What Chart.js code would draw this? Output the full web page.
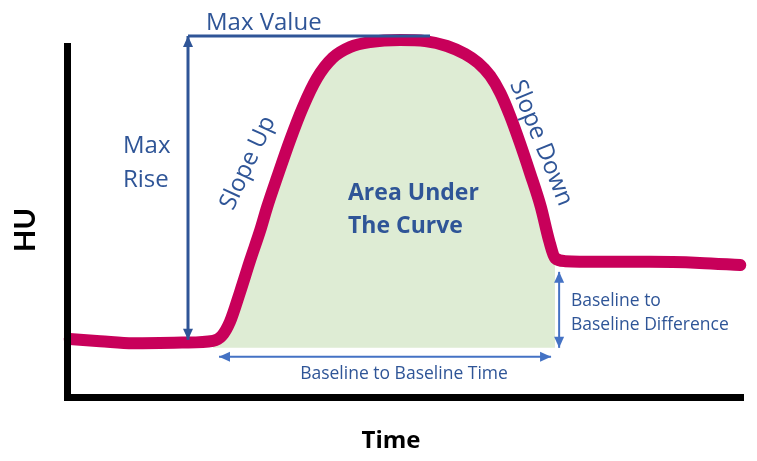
<!DOCTYPE html>
<html>
<head>
<meta charset="utf-8">
<script src="https://cdn.jsdelivr.net/npm/chart.js@4.4.1/dist/chart.umd.min.js"></script>
<style>
  html, body { margin: 0; padding: 0; background: #fff; }
  #wrap { width: 757px; height: 461px; }
</style>
</head>
<body>
<div id="wrap"><canvas id="curve" width="757" height="461"></canvas></div>
<script>
// time (0-100) and HU (0-100)
const timeValues = [0.4, 4.9, 9.8, 17.2, 21.6, 22.9, 24.1, 25.6, 27.1, 28.6, 29.6, 31.1, 33.0, 34.9, 37.0, 39.3,
    41.9, 44.8, 49.3, 53.0, 56.2, 58.9, 60.8, 62.6, 64.1, 65.5, 67.0, 68.5, 70.1, 71.3, 72.2, 73.7, 78.8, 86.2, 93.6, 99.6];
const huValues = [16.5, 15.9, 15.3, 15.5, 16.0, 17.4, 21.4, 29.9, 39.0, 47.6, 54.1, 62.7, 73.2, 82.6, 90.9, 96.6,
    99.7, 101.1, 101.7, 101.4, 100.0, 97.7, 95.2, 91.5, 86.6, 80.3, 72.4, 63.8, 54.1, 44.7, 39.6, 38.7, 38.5, 38.5, 38.2, 37.6];

// baseline to baseline window
const areaStart = 21.6;
const areaEnd = 72.2;
const areaFloor = 14.0;
const maxRiseTime = 17.9;
const startBaseline = 16.0;
const endBaseline = 38.5;
const diffArrowTime = 72.8;

const curvePoints = timeValues.map((t, i) => ({ x: t, y: huValues[i] }));
const areaPoints = curvePoints.filter(p => p.x >= areaStart && p.x <= areaEnd);

const FONT = '"Open Sans", Lato, sans-serif';
const DARK = '#2f5597';
const LIGHT = '#4472c4';

function arrow(ctx, x1, y1, x2, y2, color, width, headStart, headEnd) {
    ctx.save();
    ctx.strokeStyle = color;
    ctx.fillStyle = color;
    ctx.lineWidth = width;
    ctx.beginPath();
    ctx.moveTo(x1, y1);
    ctx.lineTo(x2, y2);
    ctx.stroke();
    const head = (px, py, ang) => {
        const len = 11, half = 5;
        ctx.beginPath();
        ctx.moveTo(px, py);
        ctx.lineTo(px - len * Math.cos(ang) + half * Math.sin(ang), py - len * Math.sin(ang) - half * Math.cos(ang));
        ctx.lineTo(px - len * Math.cos(ang) - half * Math.sin(ang), py - len * Math.sin(ang) + half * Math.cos(ang));
        ctx.closePath();
        ctx.fill();
    };
    const ang = Math.atan2(y2 - y1, x2 - x1);
    if (headEnd) head(x2, y2, ang);
    if (headStart) head(x1, y1, ang + Math.PI);
    ctx.restore();
}

function label(ctx, str, x, y, font, color, align, rot) {
    ctx.save();
    ctx.translate(x, y);
    if (rot) ctx.rotate(rot);
    ctx.font = font;
    ctx.fillStyle = color;
    ctx.textAlign = align || 'left';
    ctx.textBaseline = rot ? 'middle' : 'alphabetic';
    ctx.fillText(str, 0, 0);
    ctx.restore();
}

const annotations = {
    id: 'annotations',
    afterDatasetsDraw(chart) {
        const { ctx, scales: { x, y } } = chart;
        const peakY = y.getPixelForValue(Math.max(...huValues)) - 4;
        const riseX = x.getPixelForValue(maxRiseTime);

        // max value line + max rise arrow
        ctx.save();
        ctx.strokeStyle = DARK;
        ctx.lineWidth = 3;
        ctx.beginPath();
        ctx.moveTo(riseX, peakY);
        ctx.lineTo(x.getPixelForValue(53.7), peakY);
        ctx.stroke();
        ctx.restore();
        arrow(ctx, riseX, peakY, riseX, y.getPixelForValue(startBaseline) - 1, DARK, 3, true, true);

        label(ctx, 'Max Value', 206, 30, '24px ' + FONT, DARK);
        label(ctx, 'Max', 123, 153, '24px ' + FONT, DARK);
        label(ctx, 'Rise', 123, 187, '24px ' + FONT, DARK);
        label(ctx, 'Slope Up', 248, 163, '24px ' + FONT, DARK, 'center', -65 * Math.PI / 180);
        label(ctx, 'Slope Down', 541, 143, '24px ' + FONT, DARK, 'center', 68 * Math.PI / 180);
        label(ctx, 'Area Under', 348, 200, 'bold 23px ' + FONT, DARK);
        label(ctx, 'The Curve', 348, 233, 'bold 23px ' + FONT, DARK);

        // baseline to baseline time
        const floorY = y.getPixelForValue(areaFloor);
        arrow(ctx, x.getPixelForValue(areaStart) + 6, floorY + 9, x.getPixelForValue(areaEnd) - 4, floorY + 9, LIGHT, 2, true, true);
        label(ctx, 'Baseline to Baseline Time', 404, 379, '17.5px ' + FONT, DARK, 'center');

        // baseline to baseline difference
        const dx = x.getPixelForValue(diffArrowTime);
        arrow(ctx, dx, y.getPixelForValue(endBaseline) + 10, dx, floorY, LIGHT, 2, true, true);
        label(ctx, 'Baseline to', 571, 306, '17.5px ' + FONT, DARK);
        label(ctx, 'Baseline Difference', 571, 330, '17.5px ' + FONT, DARK);

        // axis names
        label(ctx, 'HU', 26, 230, 'bold 29px Lato, sans-serif', '#000', 'center', -Math.PI / 2);
        label(ctx, 'Time', 391, 448, 'bold 24px ' + FONT, '#000', 'center');
    }
};

new Chart(document.getElementById('curve'), {
    type: 'line',
    data: {
        datasets: [
            {
                data: curvePoints,
                borderColor: '#c8005a',
                borderWidth: 12,
                borderCapStyle: 'round',
                borderJoinStyle: 'round',
                cubicInterpolationMode: 'monotone',
                pointRadius: 0,
                fill: false,
                clip: false
            },
            {
                data: areaPoints,
                borderWidth: 0,
                borderColor: 'rgba(0,0,0,0)',
                backgroundColor: '#deecd4',
                cubicInterpolationMode: 'monotone',
                pointRadius: 0,
                fill: { value: areaFloor },
                clip: false
            }
        ]
    },
    options: {
        responsive: false,
        devicePixelRatio: 1,
        animation: false,
        layout: { padding: { top: 46, right: 14, left: 0, bottom: 0 } },
        plugins: { legend: { display: false }, tooltip: { enabled: false } },
        scales: {
            x: {
                type: 'linear', min: 0, max: 100,
                ticks: { display: false },
                grid: { display: false, drawTicks: false },
                border: { display: true, width: 7, color: '#000', z: 1 },
                afterFit: s => { s.height = 64; }
            },
            y: {
                min: 0, max: 100,
                ticks: { display: false },
                grid: { display: false, drawTicks: false },
                border: { display: true, width: 7, color: '#000', z: 1 },
                afterFit: s => { s.width = 67; }
            }
        }
    },
    plugins: [annotations]
});
</script>
</body>
</html>
